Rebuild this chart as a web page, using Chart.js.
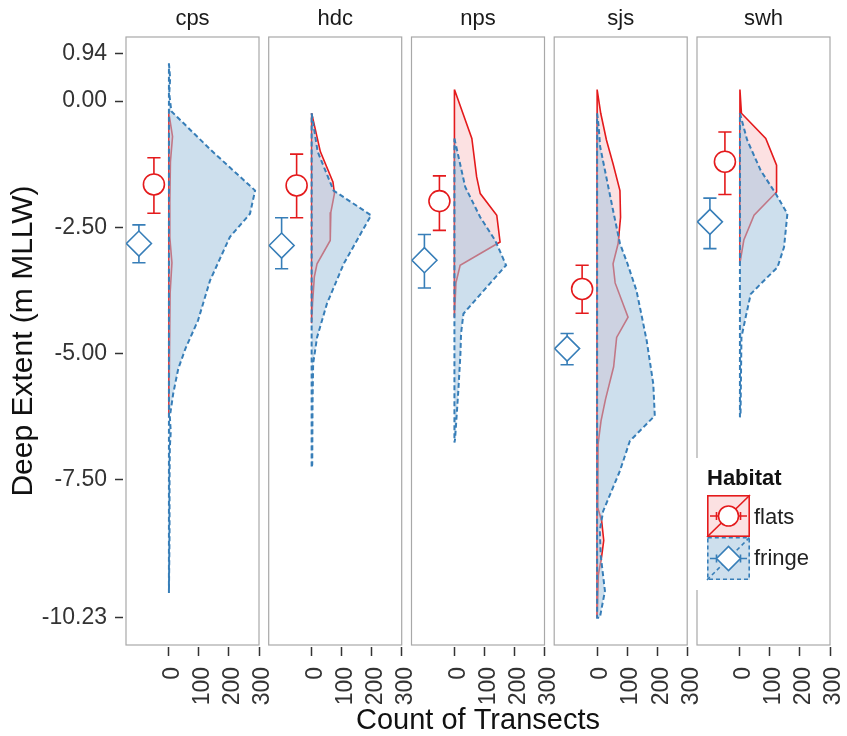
<!DOCTYPE html>
<html>
<head>
<meta charset="utf-8">
<script src="https://cdn.jsdelivr.net/npm/chart.js@4/dist/chart.umd.min.js"></script>
<style>
  html, body { margin: 0; padding: 0; background: #fff; }
  #wrap { position: relative; width: 847px; height: 736px; background: #fff; }
  #wrap canvas { position: absolute; left: 0; top: 0; }
</style>
</head>
<body>
<div id="wrap">
  <canvas id="p0" width="847" height="736"></canvas>
  <canvas id="p1" width="847" height="736"></canvas>
  <canvas id="p2" width="847" height="736"></canvas>
  <canvas id="p3" width="847" height="736"></canvas>
  <canvas id="p4" width="847" height="736"></canvas>
</div>
<script>
// ---- data -------------------------------------------------------------
const sites = ['cps', 'hdc', 'nps', 'sjs', 'swh'];
const depthTicks = [0.94, 0.00, -2.50, -5.00, -7.50, -10.23];
const countTicks = [0, 100, 200, 300];

// mean deep extent (m MLLW) with interval, per site
const flatsMean  = [-1.65, -1.67, -1.98, -3.72, -1.20];
const flatsLow   = [-2.22, -2.31, -2.56, -4.20, -1.85];
const flatsHigh  = [-1.12, -1.05, -1.48, -3.25, -0.61];
const fringeMean = [-2.82, -2.86, -3.15, -4.90, -2.39];
const fringeLow  = [-3.20, -3.32, -3.70, -5.22, -2.92];
const fringeHigh = [-2.45, -2.31, -2.64, -4.60, -1.92];

// transect counts along depth, per site and habitat
const cpsFlatsDepth  = [-0.24, -0.70, -1.20, -2.00, -2.70, -3.20, -3.80, -5.00, -6.26];
const cpsFlatsCount  = [0, 12, 5, 3, 3, 10, 4, 2, 0];
const cpsFringeDepth = [0.75, 0.45, 0.15, -0.20, -0.97, -1.77, -2.23, -2.69, -3.55, -4.34, -4.90, -5.30, -5.80, -6.25, -6.55, -6.85, -7.50, -8.60, -9.74];
const cpsFringeCount = [0, 4, 1, 8, 140, 287, 270, 203, 137, 97, 55, 31, 14, 3, 6, 3, 2, 2, 0];

const hdcFlatsDepth  = [-0.24, -0.50, -1.00, -1.60, -1.83, -2.20, -2.76, -3.22, -3.48, -4.00, -4.40];
const hdcFlatsCount  = [0, 10, 29, 71, 76, 64, 62, 18, 9, 3, 0];
const hdcFringeDepth = [-0.24, -1.00, -1.77, -2.26, -3.22, -4.01, -4.68, -5.20, -6.00, -7.20, -7.26];
const hdcFringeCount = [0, 20, 73, 198, 107, 51, 18, 5, 3, 2, 0];

const npsFlatsDepth  = [0.23, -0.74, -1.50, -1.83, -2.26, -2.79, -3.25, -3.60, -4.28];
const npsFlatsCount  = [0, 58, 74, 86, 141, 152, 19, 5, 0];
const npsFringeDepth = [-0.74, -0.90, -1.70, -2.30, -2.76, -3.25, -3.68, -4.21, -4.60, -5.00, -5.73, -6.70, -6.76];
const npsFringeCount = [0, 6, 36, 86, 136, 172, 108, 30, 22, 20, 13, 2, 0];

const sjsFlatsDepth  = [0.23, -0.24, -0.77, -1.24, -1.77, -2.30, -2.82, -3.22, -3.60, -4.28, -4.68, -5.26, -5.90, -6.33, -6.80, -8.05, -8.31, -8.70, -9.02, -9.38, -10.23];
const sjsFlatsCount  = [0, 12, 31, 53, 76, 78, 70, 53, 60, 103, 65, 55, 28, 13, 3, 2, 15, 22, 15, 4, 0];
const sjsFringeDepth = [-0.24, -0.50, -0.90, -1.37, -2.16, -2.82, -3.20, -3.75, -4.30, -4.74, -5.60, -6.23, -6.73, -7.32, -8.12, -8.50, -9.00, -9.70, -10.23, -10.23];
const sjsFringeCount = [0, 5, 10, 26, 53, 76, 100, 131, 150, 165, 187, 192, 109, 76, 20, 9, 12, 26, 9, 0];

const swhFlatsDepth  = [0.23, -0.24, -0.74, -1.27, -1.80, -2.26, -2.75, -3.21];
const swhFlatsCount  = [0, 5, 86, 122, 122, 47, 13, 0];
const swhFringeDepth = [-0.24, -0.77, -1.37, -1.83, -2.23, -2.89, -3.29, -3.62, -3.82, -4.28, -4.68, -6.20, -6.26];
const swhFringeCount = [0, 24, 69, 119, 158, 147, 125, 69, 36, 19, 5, 2, 0];

const flatsProfiles  = [[cpsFlatsDepth, cpsFlatsCount], [hdcFlatsDepth, hdcFlatsCount], [npsFlatsDepth, npsFlatsCount], [sjsFlatsDepth, sjsFlatsCount], [swhFlatsDepth, swhFlatsCount]];
const fringeProfiles = [[cpsFringeDepth, cpsFringeCount], [hdcFringeDepth, hdcFringeCount], [npsFringeDepth, npsFringeCount], [sjsFringeDepth, sjsFringeCount], [swhFringeDepth, swhFringeCount]];

// ---- layout and style ---------------------------------------------------
const W = 847, H = 736;
const PANEL_LEFT = [126, 268.7, 411.5, 554.2, 697];
const PANEL_W = 133;
const AREA_BOTTOM = 645;
const X_MIN = -143, X_MAX = 300;
const Y_MIN = -10.77, Y_MAX = 1.27;
const FLATS_X = -50, FRINGE_X = -100, CAP = 22;
const RED = '#E41A1C', BLUE = '#377EB8';
const RED_FILL = 'rgba(228,26,28,0.13)', BLUE_FILL = 'rgba(55,126,184,0.25)';
const VEIL = 'rgba(255,255,255,0.4)';
const FONT = '"Liberation Sans", Arial, Helvetica, sans-serif';
const TEXT = '#333333';

Chart.defaults.font.family = FONT;
Chart.defaults.color = TEXT;

function outline(depths, counts) {
  const pts = depths.map((d, i) => ({ x: counts[i], y: d }));
  const last = pts[pts.length - 1];
  if (last.x !== 0) pts.push({ x: 0, y: last.y });
  pts.push({ x: 0, y: depths[0] });
  return pts;
}

function errorBar(x, lo, hi) {
  return [
    { x: x - CAP, y: hi }, { x: x + CAP, y: hi }, { x: x, y: null },
    { x: x, y: hi }, { x: x, y: lo }, { x: x, y: null },
    { x: x - CAP, y: lo }, { x: x + CAP, y: lo }
  ];
}

const panelFrame = {
  id: 'panelFrame',
  beforeDatasetsDraw(chart) {
    const a = chart.chartArea, c = chart.ctx;
    c.save();
    c.strokeStyle = '#a8a8a8';
    c.lineWidth = 1.2;
    c.strokeRect(a.left, a.top, a.right - a.left, a.bottom - a.top);
    c.restore();
  }
};

// shared x-axis title, centred under the middle panel
const sharedXTitle = {
  id: 'sharedXTitle',
  afterDraw(chart) {
    const a = chart.chartArea, c = chart.ctx;
    c.save();
    c.fillStyle = '#111';
    c.font = '29px ' + FONT;
    c.textAlign = 'center';
    c.textBaseline = 'alphabetic';
    c.fillText('Count of Transects', (a.left + a.right) / 2, 729);
    c.restore();
  }
};

function drawKey(c, x, y, w, h, col, fillCol, dash, shape) {
  c.fillStyle = fillCol;
  c.fillRect(x, y, w, h);
  c.strokeStyle = col;
  c.lineWidth = 1.6;
  c.setLineDash(dash);
  c.strokeRect(x + 0.8, y + 0.8, w - 1.6, h - 1.6);
  c.beginPath(); c.moveTo(x, y + h); c.lineTo(x + w, y); c.stroke();
  c.setLineDash([]);
  const cx = x + w / 2, cy = y + h / 2;
  c.beginPath();
  c.moveTo(x + 3, cy); c.lineTo(x + w - 3, cy);
  c.moveTo(cx - 12, cy - 4); c.lineTo(cx - 12, cy + 4);
  c.moveTo(cx + 12, cy - 4); c.lineTo(cx + 12, cy + 4);
  c.stroke();
  c.fillStyle = '#fff';
  c.beginPath();
  if (shape === 'circle') {
    c.arc(cx, cy, 10, 0, Math.PI * 2);
  } else {
    c.moveTo(cx - 12, cy); c.lineTo(cx, cy - 12); c.lineTo(cx + 12, cy); c.lineTo(cx, cy + 12); c.closePath();
  }
  c.fill();
  c.stroke();
}

const habitatKey = {
  id: 'habitatKey',
  afterDraw(chart) {
    const c = chart.ctx;
    const left = chart.chartArea.left;
    c.save();
    c.fillStyle = '#fff';
    c.fillRect(left - 4, 458, 124, 132);
    c.fillStyle = '#111';
    c.textBaseline = 'alphabetic';
    c.textAlign = 'left';
    c.font = 'bold 22px ' + FONT;
    c.fillText('Habitat', left + 10, 485);
    drawKey(c, left + 10, 495, 43, 42, RED, RED_FILL, [], 'circle');
    drawKey(c, left + 10, 537, 43, 43, BLUE, BLUE_FILL, [4, 3], 'diamond');
    c.fillStyle = '#222';
    c.font = '22px ' + FONT;
    c.fillText('flats', left + 57, 524);
    c.fillText('fringe', left + 57, 565);
    c.restore();
  }
};

function buildPanel(i) {
  const [fd, fc] = flatsProfiles[i];
  const [gd, gc] = fringeProfiles[i];
  const fringeShape = outline(gd, gc);
  const datasets = [
    { label: 'flats', data: outline(fd, fc), borderColor: RED, borderWidth: 1.6,
      backgroundColor: RED_FILL, fill: 'shape', pointRadius: 0, tension: 0, order: 6 },
    { label: 'fringe veil', data: fringeShape, borderWidth: 0, borderColor: 'rgba(0,0,0,0)',
      backgroundColor: VEIL, fill: 'shape', pointRadius: 0, tension: 0, order: 5 },
    { label: 'fringe', data: fringeShape, borderColor: BLUE, borderWidth: 2, borderDash: [5, 3],
      backgroundColor: BLUE_FILL, fill: 'shape', pointRadius: 0, tension: 0, order: 4 },
    { label: 'flats interval', data: errorBar(FLATS_X, flatsLow[i], flatsHigh[i]), borderColor: RED,
      borderWidth: 1.6, pointRadius: 0, fill: false, spanGaps: false, order: 2 },
    { label: 'fringe interval', data: errorBar(FRINGE_X, fringeLow[i], fringeHigh[i]), borderColor: BLUE,
      borderWidth: 1.6, pointRadius: 0, fill: false, spanGaps: false, order: 2 },
    { label: 'flats mean', data: [{ x: FLATS_X, y: flatsMean[i] }], showLine: false, pointStyle: 'circle',
      pointRadius: 10.5, pointBorderWidth: 1.6, pointBorderColor: RED, pointBackgroundColor: '#fff', order: 1 },
    { label: 'fringe mean', data: [{ x: FRINGE_X, y: fringeMean[i] }], showLine: false, pointStyle: 'rectRot',
      pointRadius: 12.5, pointBorderWidth: 1.6, pointBorderColor: BLUE, pointBackgroundColor: '#fff', order: 1 }
  ];

  const yScale = {
    type: 'linear', min: Y_MIN, max: Y_MAX, display: i === 0,
    afterBuildTicks: s => { s.ticks = depthTicks.map(v => ({ value: v })); },
    ticks: { font: { size: 23 }, color: TEXT, padding: 8, callback: v => Number(v).toFixed(2) },
    grid: { drawOnChartArea: false, drawTicks: true, tickLength: 11, tickWidth: 1.5, tickColor: TEXT, tickBorderDash: [8, 100] },
    border: { display: false },
    title: { display: true, text: 'Deep Extent (m MLLW)', font: { size: 30 }, color: '#111', padding: { top: 6, bottom: 0 } }
  };
  if (i === 0) yScale.afterFit = s => { s.width = PANEL_LEFT[0]; };

  const plugins = [panelFrame];
  if (i === 2) plugins.push(sharedXTitle);
  if (i === 4) plugins.push(habitatKey);

  new Chart(document.getElementById('p' + i), {
    type: 'line',
    data: { datasets },
    options: {
      responsive: false,
      animation: false,
      events: [],
      layout: { padding: { left: i === 0 ? 0 : PANEL_LEFT[i], right: W - PANEL_LEFT[i] - PANEL_W, top: 0, bottom: 0 } },
      scales: {
        x: {
          type: 'linear', min: X_MIN, max: X_MAX,
          afterBuildTicks: s => { s.ticks = countTicks.map(v => ({ value: v })); },
          afterFit: s => { s.height = H - AREA_BOTTOM; s.paddingLeft = 0; s.paddingRight = 0; },
          ticks: { autoSkip: false, minRotation: 90, maxRotation: 90, font: { size: 23 }, color: TEXT, padding: 11,
                   labelOffset: 4, callback: v => String(v) },
          grid: { drawOnChartArea: false, drawTicks: true, tickLength: 11, tickWidth: 1.5, tickColor: TEXT, tickBorderDash: [0, 2, 9, 100] },
          border: { display: false },
          title: { display: false }
        },
        y: yScale
      },
      plugins: {
        legend: { display: false },
        tooltip: { enabled: false },
        title: { display: true, text: sites[i], fullSize: false, font: { size: 22, weight: 'normal' }, color: '#1a1a1a',
                 padding: { top: 6, bottom: 4.6 } }
      }
    },
    plugins
  });
}

sites.forEach((s, i) => buildPanel(i));
</script>
</body>
</html>
